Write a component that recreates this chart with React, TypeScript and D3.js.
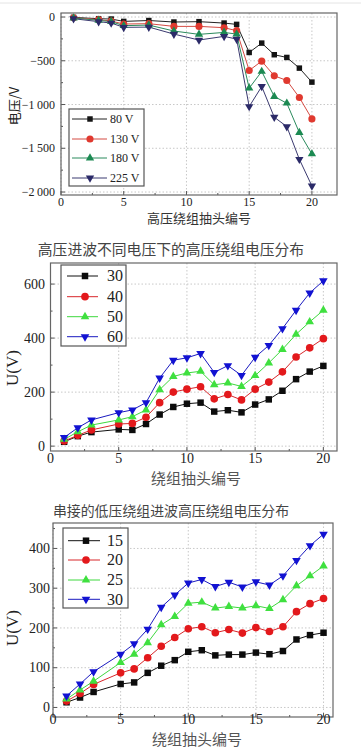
import React from "react";
import * as d3 from "d3";

// chart 1: 高压绕组抽头 voltage, 4 impulse levels
const tapsA = [1, 3, 4, 5, 7, 9, 11, 13, 14, 15, 16, 17, 18, 19, 20];
const v80 = [-4, -19, -23, -50, -40, -57, -53, -69, -84, -405, -298, -431, -462, -584, -744];
const v130 = [-8, -30, -46, -80, -76, -107, -107, -122, -156, -611, -504, -672, -725, -920, -1164];
const v180 = [-11, -38, -53, -99, -92, -160, -198, -176, -195, -813, -622, -908, -985, -1321, -1565];
const v225 = [-19, -53, -69, -118, -115, -195, -263, -221, -252, -1023, -794, -1145, -1252, -1626, -1931];
const namesA = ["80 V", "130 V", "180 V", "225 V"];
const yTicksA = [0, -500, -1000, -1500, -2000];
const yTickLabelsA = ["0", "\u2212500", "\u22121\u2009000", "\u22121\u2009500", "\u22122\u2009000"];

// chart 2: 高压进波
const tapsB = [1, 2, 3, 5, 6, 7, 8, 9, 10, 11, 12, 13, 14, 15, 16, 17, 18, 19, 20];
const u30 = [16, 37, 52, 62, 60, 82, 117, 145, 157, 161, 128, 133, 125, 154, 173, 205, 248, 276, 297];
const u40 = [19, 40, 60, 82, 84, 107, 161, 200, 211, 220, 175, 191, 171, 211, 237, 275, 330, 364, 398];
const u50 = [25, 53, 78, 97, 109, 134, 209, 258, 271, 277, 227, 234, 221, 261, 308, 358, 414, 460, 503];
const u60 = [32, 68, 97, 124, 134, 161, 252, 318, 327, 343, 273, 298, 262, 329, 373, 435, 503, 567, 612];
const namesB = ["30", "40", "50", "60"];
const yTicksB = [0, 200, 400, 600];

// chart 3: 串接的低压绕组进波
const tapsC = [1, 2, 3, 5, 6, 7, 8, 9, 10, 11, 12, 13, 14, 15, 16, 17, 18, 19, 20];
const w15 = [13, 25, 39, 59, 63, 87, 105, 119, 140, 144, 131, 133, 133, 138, 134, 142, 171, 182, 188];
const w20 = [16, 35, 58, 87, 97, 125, 154, 176, 198, 203, 188, 196, 187, 201, 191, 203, 241, 261, 274];
const w25 = [21, 44, 66, 113, 134, 163, 208, 229, 262, 265, 250, 254, 250, 256, 249, 271, 306, 331, 356];
const w30 = [29, 59, 90, 134, 160, 197, 252, 283, 313, 322, 304, 315, 303, 316, 308, 331, 370, 407, 436];
const namesC = ["15", "20", "25", "30"];
const yTicksC = [0, 100, 200, 300, 400];

const xTicks = [0, 5, 10, 15, 20];

const SERIF = "Liberation Serif, Times New Roman, DejaVu Serif, serif";
const CJK = "Noto Sans CJK SC, Noto Sans, sans-serif";

const shapes = [d3.symbolSquare, d3.symbolCircle, d3.symbolTriangle, d3.symbolTriangle];

function Marker({ x, y, i, color, size }) {
  const sz = i === 0 ? size[0] : i === 1 ? size[1] : size[2];
  const p = d3.symbol().type(shapes[i]).size(sz)();
  const rot = i === 3 ? " rotate(180)" : "";
  return <path d={p} transform={`translate(${x},${y})${rot}`} fill={color} />;
}

function Chart(props) {
  const { box, xDomain, yDomain, xMinor, yTicks, yTickLabels, yMinor, taps, series, names, colors, lineColors,
    legend, tickFont, xLabelY, yLabelX, xTitle, yTitle, titleFont, yTitleFont, xTitleColor, markerSize } = props;
  const x = d3.scaleLinear().domain(xDomain).range([box.left, box.right]);
  const y = d3.scaleLinear().domain(yDomain).range([box.bottom, box.top]);
  const line = d3.line<number>().x((d, k) => x(taps[k])).y(d => y(d));
  const minorX = d3.range(xDomain[0], xDomain[1], xMinor).filter(v => v % 5 !== 0);
  const minorY = d3.range(Math.ceil(yDomain[0] / yMinor) * yMinor, yDomain[1], yMinor).filter(v => !yTicks.includes(v));
  return (
    <g>
      {xTicks.map(t => (
        <line key={"gx" + t} x1={x(t)} x2={x(t)} y1={box.top} y2={box.bottom} stroke="#c8c8c8" strokeDasharray="1.5,2" />
      ))}
      {yTicks.map(t => (
        <line key={"gy" + t} x1={box.left} x2={box.right} y1={y(t)} y2={y(t)} stroke="#c8c8c8" strokeDasharray="1.5,2" />
      ))}
      {xTicks.map(t => (
        <line key={"tx" + t} x1={x(t)} x2={x(t)} y1={box.bottom} y2={box.bottom - 4} stroke="#555" />
      ))}
      {minorX.map(t => (
        <line key={"mx" + t} x1={x(t)} x2={x(t)} y1={box.bottom} y2={box.bottom - 2} stroke="#555" />
      ))}
      {yTicks.map(t => (
        <line key={"ty" + t} x1={box.left} x2={box.left + 4} y1={y(t)} y2={y(t)} stroke="#555" />
      ))}
      {minorY.map(t => (
        <line key={"my" + t} x1={box.left} x2={box.left + 2} y1={y(t)} y2={y(t)} stroke="#555" />
      ))}
      <rect x={box.left} y={box.top} width={box.right - box.left} height={box.bottom - box.top} fill="none" stroke="#666" strokeWidth={1.2} />
      {series.map((s, i) => (
        <path key={"l" + i} d={line(s)} fill="none" stroke={lineColors[i]} strokeWidth={1} />
      ))}
      {series.map((s, i) =>
        s.map((v, k) => <Marker key={"m" + i + "_" + k} x={x(taps[k])} y={y(v)} i={i} color={colors[i]} size={markerSize} />)
      )}
      {xTicks.map(t => (
        <text key={"lx" + t} x={x(t)} y={xLabelY} textAnchor="middle" style={{ fontFamily: SERIF }} fontSize={tickFont} fill="#222">
          {t}
        </text>
      ))}
      {yTicks.map((t, k) => (
        <text key={"ly" + t} x={yLabelX} y={y(t) + tickFont * 0.34} textAnchor="end" style={{ fontFamily: SERIF }} fontSize={tickFont} fill="#222">
          {yTickLabels ? yTickLabels[k] : t}
        </text>
      ))}
      <rect x={legend.x0} y={legend.y0} width={legend.x1 - legend.x0} height={legend.y1 - legend.y0} fill="#fff" stroke="#555" strokeWidth={1.2} />
      {names.map((n, i) => (
        <g key={"lg" + i}>
          <line x1={legend.l0} x2={legend.l1} y1={legend.ys[i]} y2={legend.ys[i]} stroke={lineColors[i]} strokeWidth={1} />
          <Marker x={legend.m} y={legend.ys[i]} i={i} color={colors[i]} size={markerSize} />
          <text x={legend.tx} y={legend.ys[i] + legend.font * 0.34} style={{ fontFamily: SERIF }} fontSize={legend.font} fill="#222">
            {n}
          </text>
        </g>
      ))}
      <text x={xTitle.x} y={xTitle.y} textAnchor="middle" style={{ fontFamily: CJK }} fontSize={titleFont} fill={xTitleColor}>
        {xTitle.text}
      </text>
      <text
        transform={`translate(${yTitle.x},${yTitle.y}) rotate(-90)`}
        textAnchor="middle"
        style={{ fontFamily: yTitle.cjk ? CJK : SERIF }}
        fontSize={yTitleFont}
        fill="#222"
      >
        {yTitle.text}
      </text>
    </g>
  );
}

const colorsA = ["#141414", "#e0392f", "#1c8a52", "#2b2a68"];
const lineA = ["#222", "#d44a42", "#2a8a5c", "#3b3a70"];
const colorsB = ["#0c0c0c", "#e3191c", "#3fe03f", "#1212d2"];
const lineB = ["#111", "#d8262a", "#3ed83e", "#1a1ac0"];

export default function App() {
  return (
    <div style={{ position: "absolute", left: 0, top: 0 }}>
      <svg width={361} height={750} style={{ display: "block", background: "#fff" }}>
        <line x1={0} x2={361} y1={3} y2={3} stroke="#e4e4e4" />
        <Chart
          box={{ left: 61, right: 337, top: 13, bottom: 195 }}
          xDomain={[0, 22]}
          xMinor={2.5}
          yDomain={[-2034, 46]}
          yTicks={yTicksA}
          yTickLabels={yTickLabelsA}
          yMinor={250}
          taps={tapsA}
          series={[v80, v130, v180, v225]}
          names={namesA}
          colors={colorsA}
          lineColors={lineA}
          markerSize={[30, 40, 30]}
          legend={{ x0: 69, x1: 144, y0: 109, y1: 186, ys: [119, 139, 158, 178], l0: 72, l1: 107, m: 90, tx: 110, font: 12 }}
          tickFont={12}
          xLabelY={206}
          yLabelX={55}
          xTitle={{ x: 199, y: 223, text: "高压绕组抽头编号" }}
          yTitle={{ x: 19, y: 106, text: "电压/V", cjk: true }}
          titleFont={13}
          yTitleFont={13}
          xTitleColor="#333"
        />
        <text x={171} y={255} textAnchor="middle" style={{ fontFamily: CJK }} fontSize={14.8} fill="#444">
          高压进波不同电压下的高压绕组电压分布
        </text>
        <Chart
          box={{ left: 50.5, right: 337, top: 263, bottom: 451 }}
          xDomain={[0, 21]}
          xMinor={2.5}
          yDomain={[-18, 678]}
          yTicks={yTicksB}
          yMinor={100}
          taps={tapsB}
          series={[u30, u40, u50, u60]}
          names={namesB}
          colors={colorsB}
          lineColors={lineB}
          markerSize={[42, 46, 32]}
          legend={{ x0: 61, x1: 126, y0: 265, y1: 346, ys: [276, 296.7, 316.7, 336.7], l0: 67, l1: 98, m: 85, tx: 107, font: 16 }}
          tickFont={14}
          xLabelY={463}
          yLabelX={45}
          xTitle={{ x: 196, y: 484, text: "绕组抽头编号" }}
          yTitle={{ x: 18, y: 368, text: "U(V)", cjk: false }}
          titleFont={15}
          yTitleFont={17}
          xTitleColor="#555"
        />
        <text x={171} y={516} textAnchor="middle" style={{ fontFamily: CJK }} fontSize={13.9} fill="#444">
          串接的低压绕组进波高压绕组电压分布
        </text>
        <Chart
          box={{ left: 53, right: 333, top: 523, bottom: 717 }}
          xDomain={[0, 20.7]}
          xMinor={2.5}
          yDomain={[-24, 464]}
          yTicks={yTicksC}
          yMinor={50}
          taps={tapsC}
          series={[w15, w20, w25, w30]}
          names={namesC}
          colors={colorsB}
          lineColors={lineB}
          markerSize={[42, 46, 32]}
          legend={{ x0: 63, x1: 128, y0: 528, y1: 608, ys: [540.7, 560, 580, 599.3], l0: 68, l1: 100, m: 86, tx: 107, font: 16 }}
          tickFont={14}
          xLabelY={724}
          yLabelX={50}
          xTitle={{ x: 197, y: 745, text: "绕组抽头编号" }}
          yTitle={{ x: 18, y: 628, text: "U(V)", cjk: false }}
          titleFont={15}
          yTitleFont={17}
          xTitleColor="#555"
        />
      </svg>
    </div>
  );
}
